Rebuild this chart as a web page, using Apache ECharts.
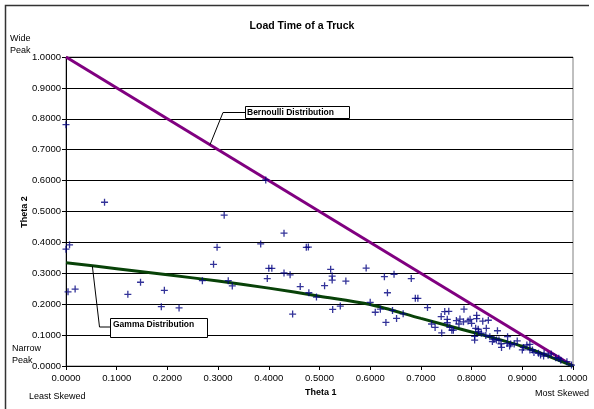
<!DOCTYPE html>
<html><head><meta charset="utf-8">
<script src="https://cdn.jsdelivr.net/npm/echarts@6/dist/echarts.min.js"></script>
<style>html,body{margin:0;padding:0;background:#fff}#c{width:594px;height:409px}</style>
</head><body><div id="c"></div>
<script>
// ---- data ----
const chartTitle = 'Load Time of a Truck';
const xAxisName = 'Theta 1';
const yAxisName = 'Theta 2';
const observedTheta1 = [
  0.000,0.076,0.312,0.000,0.007,0.298,0.291,0.004,0.018,0.122,0.147,0.194,0.188,0.223,0.269,0.320,0.328,
  0.394,0.430,0.384,0.474,0.478,0.400,0.406,0.397,0.430,0.442,0.522,0.525,0.525,0.552,0.592,0.628,0.647,
  0.462,0.510,0.479,0.494,0.634,0.447,0.526,0.541,0.600,0.610,0.620,0.644,0.652,0.631,0.665,0.681,
  0.689,0.694,0.713,0.721,0.728,0.741,0.740,0.747,0.755,0.752,0.752,0.757,0.761,0.764,0.770,0.777,0.775,
  0.785,0.784,0.793,0.800,0.797,0.810,0.810,0.808,0.813,0.806,0.806,0.814,0.819,0.822,0.833,0.829,0.828,
  0.836,0.851,0.844,0.849,0.854,0.841,0.858,0.859,0.870,0.871,0.875,0.877,0.884,0.890,0.900,0.902,0.909,
  0.915,0.915,0.920,0.923,0.932,0.936,0.943,0.942,0.951,0.957,0.966,0.972,0.976,0.988,0.997
];
const observedTheta2 = [
  0.781,0.530,0.488,0.378,0.392,0.384,0.329,0.240,0.249,0.232,0.271,0.245,0.192,0.188,0.276,0.276,0.259,
  0.602,0.430,0.395,0.384,0.385,0.316,0.316,0.283,0.301,0.295,0.313,0.291,0.278,0.275,0.317,0.289,0.297,
  0.257,0.260,0.237,0.223,0.237,0.168,0.183,0.194,0.206,0.174,0.184,0.180,0.154,0.141,0.169,0.283,
  0.219,0.219,0.189,0.136,0.125,0.107,0.160,0.176,0.177,0.151,0.140,0.125,0.116,0.116,0.147,0.152,0.136,
  0.184,0.143,0.146,0.138,0.151,0.164,0.153,0.122,0.119,0.096,0.084,0.111,0.106,0.145,0.148,0.122,0.099,
  0.095,0.114,0.086,0.084,0.084,0.079,0.072,0.060,0.073,0.095,0.065,0.071,0.071,0.081,0.052,0.060,0.068,
  0.070,0.052,0.052,0.044,0.041,0.036,0.041,0.032,0.035,0.039,0.027,0.025,0.019,0.014,0.003
];
const bernoulliTheta1 = [0, 1];
const bernoulliTheta2 = [1, 0];
const gammaTheta1 = [0, 0.1, 0.2, 0.3, 0.4, 0.5, 0.6, 0.7, 0.8, 0.9, 0.95, 1.0];
const gammaTheta2 = [0.334, 0.315, 0.295, 0.275, 0.252, 0.226, 0.199, 0.154, 0.110, 0.064, 0.033, 0.0];
const axisTicks = [0, 0.1, 0.2, 0.3, 0.4, 0.5, 0.6, 0.7, 0.8, 0.9, 1.0];
const bernoulliLabel = 'Bernoulli Distribution';
const gammaLabel = 'Gamma Distribution';
const bernoulliPointer = [0.284, 0.716];
const gammaPointer = [0.052, 0.323];

const zip = (a, b) => a.map((v, i) => [v, b[i]]);
const chart = echarts.init(document.getElementById('c'), null, {renderer: 'canvas'});
const F = 'Liberation Sans, Arial, sans-serif';
const axisCommon = {
  type: 'value', min: axisTicks[0], max: axisTicks[axisTicks.length - 1], interval: 0.1,
  axisLine: {show: true, onZero: false, lineStyle: {color: '#000', width: 1}},
  axisTick: {show: true, length: 4, lineStyle: {color: '#000'}},
  axisLabel: {color: '#000', fontFamily: F, fontSize: 9.5, formatter: v => v.toFixed(4)}
};
chart.setOption({
  animation: false,
  backgroundColor: '#fff',
  grid: {left: 66, right: 21, top: 57, bottom: 43, show: true, borderColor: '#808080', borderWidth: 1, backgroundColor: 'transparent'},
  xAxis: Object.assign({}, axisCommon, {splitLine: {show: false},
    axisLabel: Object.assign({}, axisCommon.axisLabel, {margin: 7})}),
  yAxis: Object.assign({}, axisCommon, {splitLine: {show: true, lineStyle: {color: '#000', width: 1}},
    axisLabel: Object.assign({}, axisCommon.axisLabel, {margin: 5})}),
  series: [
    {type: 'line', data: zip(bernoulliTheta1, bernoulliTheta2), showSymbol: false, z: 2,
      lineStyle: {color: '#800080', width: 3}},
    {type: 'line', data: zip(gammaTheta1, gammaTheta2), showSymbol: false, smooth: 0.3, z: 2,
      lineStyle: {color: '#084208', width: 3}},
    {type: 'scatter', data: zip(observedTheta1, observedTheta2), z: 5,
      symbol: 'path://M0,5H10M5,0V10', symbolSize: 7,
      itemStyle: {color: 'transparent', borderColor: '#000080', borderWidth: 1.3}}
  ]
});

const bp = chart.convertToPixel({gridIndex: 0}, bernoulliPointer);
const gp = chart.convertToPixel({gridIndex: 0}, gammaPointer);
const txt = (x, y, s, extra) => Object.assign({type: 'text', x: x, y: y, z: 20,
  style: Object.assign({text: s, fill: '#000', font: '9px ' + F}, extra || {})});
chart.setOption({
  graphic: [
    {type: 'polyline', z: 20, shape: {points: [[5.5, 409], [5.5, 5.5], [589, 5.5]]}, style: {stroke: '#333', lineWidth: 1.5, fill: null}},
    txt(302, 21, chartTitle, {font: 'bold 10.5px ' + F, align: 'center'}),
    txt(10, 34, 'Wide'), txt(10, 46, 'Peak'),
    txt(12, 344, 'Narrow'), txt(12, 356, 'Peak'),
    txt(29, 392, 'Least Skewed'),
    txt(589, 389, 'Most Skewed', {align: 'right'}),
    txt(305, 388, xAxisName, {font: 'bold 9px ' + F}),
    {type: 'text', x: 25, y: 212, rotation: Math.PI / 2, z: 20,
      style: {text: yAxisName, fill: '#000', font: 'bold 9px ' + F, align: 'center', verticalAlign: 'middle'}},
    // Bernoulli callout
    {type: 'polyline', z: 19, shape: {points: [[bp[0], bp[1]], [223, 112.5], [245, 112.5]]}, style: {stroke: '#000', lineWidth: 1, fill: null}},
    {type: 'rect', z: 19, shape: {x: 245.5, y: 106.5, width: 104, height: 12}, style: {fill: '#fff', stroke: '#000', lineWidth: 1}},
    txt(247, 108, bernoulliLabel, {font: 'bold 8.5px ' + F}),
    // Gamma callout
    {type: 'polyline', z: 19, shape: {points: [[gp[0], gp[1]], [99.5, 327], [111, 327]]}, style: {stroke: '#000', lineWidth: 1, fill: null}},
    {type: 'rect', z: 19, shape: {x: 110.5, y: 318.5, width: 97, height: 19}, style: {fill: '#fff', stroke: '#000', lineWidth: 1}},
    txt(113, 320, gammaLabel, {font: 'bold 8.5px ' + F})
  ]
});
</script></body></html>
